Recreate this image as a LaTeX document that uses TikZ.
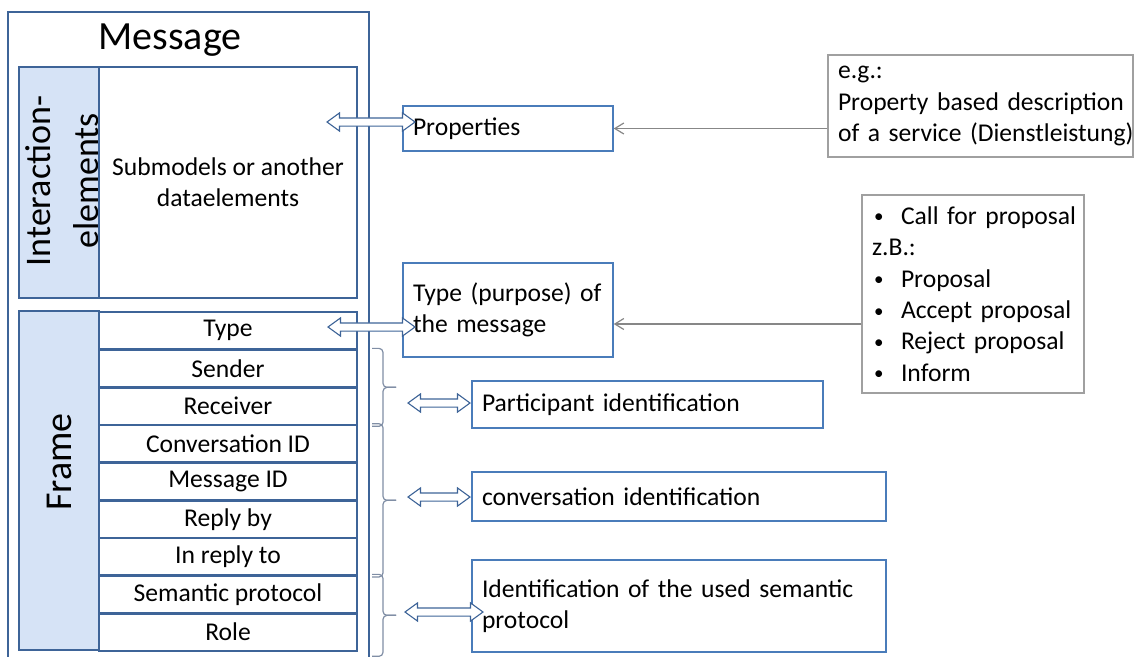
\documentclass[tikz,border=0pt]{standalone}
\usepackage{fontspec}
\setmainfont{Carlito}
\usetikzlibrary{shapes.arrows,arrows.meta,calc}

\definecolor{frameblue}{RGB}{62,100,152}
\definecolor{stripfill}{RGB}{214,227,246}
\definecolor{boxblue}{RGB}{74,124,186}
\definecolor{notegray}{RGB}{160,160,160}
\definecolor{linkgray}{RGB}{135,135,135}
\definecolor{bracegray}{RGB}{128,142,165}

\newcommand\bodyfont{\fontsize{25.6}{31.4}\selectfont}
\newcommand\blt{\makebox[29pt][l]{\hspace{2pt}\raisebox{1.5pt}{\fontsize{19}{19}\selectfont\textbullet}}}
% square-cornered curly brace between two points, tip pointing right
\newcommand\groupbrace[2]{%
  \coordinate (gm) at ($(#1)!0.5!(#2)$);
  \draw[grp] ([xshift=24pt]gm) -- ([xshift=11pt]gm) |- (#1);
  \draw[grp] ([xshift=24pt]gm) -- ([xshift=11pt]gm) |- (#2);
}

\begin{document}
\begin{tikzpicture}[x=1pt,y=-1pt,
  every node/.style={font=\bodyfont, inner sep=0pt},
  outerbox/.style={draw=frameblue, line width=1.8pt},
  strip/.style={draw=frameblue, line width=2.6pt, fill=stripfill, minimum width=80pt},
  cell/.style={draw=frameblue, line width=2.6pt, fill=white, minimum width=258pt, align=center},
  infobox/.style={draw=boxblue, line width=1.4pt, fill=white, inner xsep=10pt, align=left},
  notebox/.style={draw=notegray, line width=1.4pt, fill=white, inner xsep=10pt, align=left},
  link/.style={shape=double arrow, draw=frameblue, fill=white, line width=1.1pt,
    double arrow tip angle=72, double arrow head extend=5pt,
    inner xsep=0pt, inner ysep=3.5pt, minimum width=0pt},
  pointer/.style={draw=linkgray, line width=1.2pt, -{Straight Barb[length=9pt,width=11pt]}},
  grp/.style={draw=bracegray, line width=1.2pt, rounded corners=4pt},
]
\useasboundingbox (0,0) rectangle (1135,656);

% outer message container (runs off the bottom edge)
\draw[outerbox] (8,660) -- (8,12) -- (369,12) -- (369,660);
\node[font=\fontsize{40}{48}\selectfont] (title) at (170,40) {Message};

% interaction elements block
\node[strip, minimum height=231pt] (iestrip) at (59,182.5) {};
\node[rotate=90, align=center, font=\fontsize{36}{48}\selectfont] (ielabel) at (62,181) {Interaction-\\elements};
\node[cell, minimum height=231pt] (iebody) at (228,182.5) {Submodels or another\\dataelements};

% frame block
\node[strip, minimum height=339pt] (frstrip) at (59,480.5) {};
\node[rotate=90, font=\fontsize{38}{46}\selectfont] (frlabel) at (59,462) {Frame};
\foreach \t [count=\i] in {Type,Sender,Receiver,Conversation ID,Message ID,Reply by,In reply to,Semantic protocol,Role}{
  \pgfmathsetmacro\cy{311+(\i-0.5)*37.667}
  \node[cell, minimum height=37.667pt] (row\i) at (228,\cy+1) {\t};
}

% description boxes
\node[infobox, text width=190pt, minimum height=45pt] (props) at (508,128.5) {\mbox{Properties}};
\node[infobox, text width=190pt, minimum height=94pt] (typebox) at (508,310) {\mbox{Type (purpose) of}\\\mbox{the message}};
\node[infobox, text width=331pt, minimum height=47pt] (part) at (647.5,404.5) {\mbox{Participant identification}};
\node[infobox, text width=394pt, minimum height=49pt] (conv) at (679,496.5) {\mbox{conversation identification}};
\node[infobox, text width=394pt, minimum height=92pt] (sem) at (679,606) {\mbox{Identification of the used semantic}\\\mbox{protocol}};

% example notes
\node[notebox, text width=285pt, minimum height=102pt] (eg) at (980.5,106)
  {\mbox{e.g.:}\\\mbox{Property based description}\\\mbox{of a service (Dienstleistung)}};
\node[notebox, text width=202pt, minimum height=198pt] (bullets) at (973,294)
  {\mbox{\blt Call for proposal}\\\mbox{z.B.:}\\\mbox{\blt Proposal}\\\mbox{\blt Accept proposal}\\\mbox{\blt Reject proposal}\\\mbox{\blt Inform}};

% block arrows
\node[link, minimum height=88pt] (l1) at (371,122) {};
\node[link, minimum height=87pt] (l2) at (371.5,327) {};
\node[link, minimum height=62pt] (l3) at (439,403) {};
\node[link, minimum height=62pt] (l4) at (439,497) {};
\node[link, minimum height=78pt] (l5) at (444,612) {};

% braces grouping the frame rows
\coordinate (bx) at (372,0);
\coordinate (b1t) at (row2.north -| bx);
\coordinate (b1b) at (row3.south -| bx);
\coordinate (b2t) at (row4.north -| bx);
\coordinate (b2b) at (row7.south -| bx);
\coordinate (b3t) at (row8.north -| bx);
\coordinate (bend) at ([yshift=-4pt]row9.south);
\coordinate (b3b) at (bend -| bx);
\groupbrace{b1t}{b1b}
\groupbrace{b2t}{b2b}
\groupbrace{b3t}{b3b}

% pointers from the examples
\draw[pointer] (props.east -| eg.west) -- (props.east);
\coordinate (tp) at ([yshift=-14pt]typebox.east);
\draw[pointer] (tp -| bullets.west) -- (tp);
\end{tikzpicture}
\end{document}
